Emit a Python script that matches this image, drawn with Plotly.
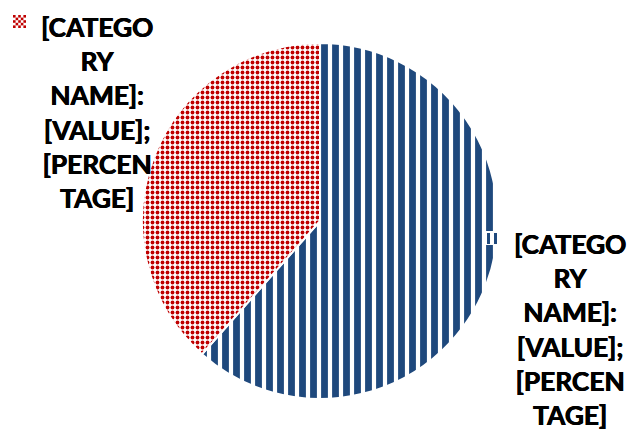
import plotly.graph_objects as go

categories = ["[CATEGORY NAME] A", "[CATEGORY NAME] B"]
values = [8, 5]
label_text = "[CATEGO<br>RY<br>NAME]:<br>[VALUE];<br>[PERCEN<br>TAGE]"

W, H = 628, 431
cx, cy, r = 320, 221, 178
BLUE = "#1F497D"
RED = "#C00000"

fig = go.Figure(go.Pie(
    labels=categories,
    values=values,
    sort=False,
    direction="clockwise",
    rotation=0,
    textinfo="none",
    hoverinfo="label+value+percent",
    showlegend=False,
    marker=dict(
        colors=["#ffffff", "#ffffff"],
        line=dict(color="#ffffff", width=2),
        pattern=dict(
            shape=["|", "."],
            fgcolor=[BLUE, RED],
            bgcolor=["#ffffff", "#ffffff"],
            size=[11, 5],
            solidity=[0.62, 0.45],
            fillmode="replace",
        ),
    ),
    domain=dict(x=[(cx - r) / W, (cx + r) / W], y=[(H - cy - r) / H, (H - cy + r) / H]),
))

font = dict(family="Lato, 'Noto Sans', sans-serif", size=26.3, color="#000000",
            weight="bold", shadow="0.5px 0 0 #000, -0.3px 0 0 #000")
fig.add_annotation(x=97 / W, y=1 - 113 / H, xref="paper", yref="paper",
                   text=label_text, showarrow=False, font=font,
                   align="center", xanchor="center", yanchor="middle")
fig.add_annotation(x=570 / W, y=1 - 329 / H, xref="paper", yref="paper",
                   text=label_text, showarrow=False, font=font,
                   align="center", xanchor="center", yanchor="middle")

def px_rect(x0, y0, x1, y1, fill, line=None):
    fig.add_shape(type="rect", xref="paper", yref="paper",
                  x0=x0 / W, x1=x1 / W, y0=1 - y1 / H, y1=1 - y0 / H,
                  fillcolor=fill, line=line or dict(width=0), layer="above")

# red legend key (checker)
cell = 2.6
for i in range(5):
    for j in range(5):
        if (i + j) % 2 == 0:
            px_rect(13 + i * cell, 15 + j * cell, 13 + (i + 1) * cell, 15 + (j + 1) * cell, RED)

# blue legend key (stripes on white)
px_rect(483, 231, 498, 245, "#ffffff")
px_rect(487, 233, 490, 244, BLUE)
px_rect(494, 233, 497, 244, BLUE)

fig.update_layout(
    width=W, height=H,
    margin=dict(l=0, r=0, t=0, b=0),
    paper_bgcolor="#ffffff",
    plot_bgcolor="#ffffff",
)

fig.write_html("out.html",
               config={"displayModeBar": False},
               post_script="document.body.style.margin='0';document.body.style.padding='0';")
